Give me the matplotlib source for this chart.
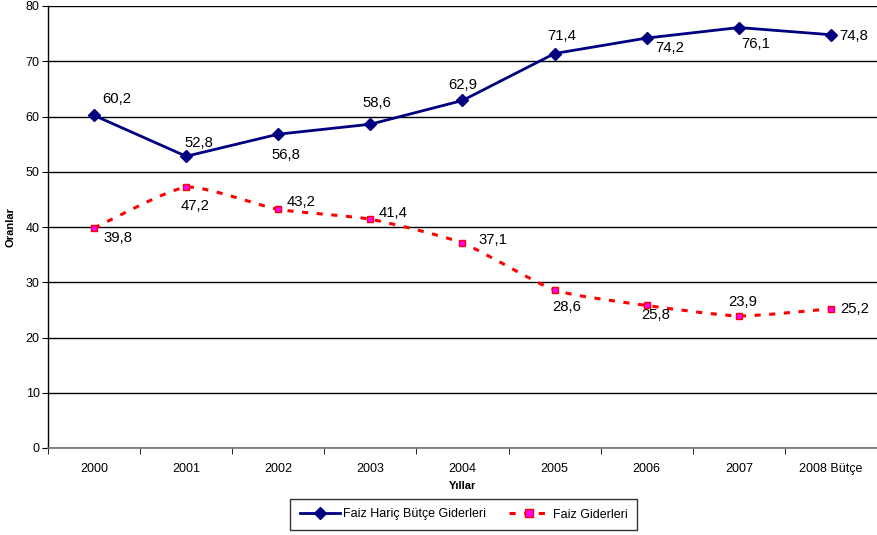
import matplotlib
matplotlib.use("Agg")
import matplotlib.pyplot as plt
from matplotlib.path import Path
from matplotlib.patches import PathPatch
from matplotlib.lines import Line2D
import numpy as np

plt.rcParams['font.family'] = ['Liberation Sans', 'DejaVu Sans']

years = ["2000", "2001", "2002", "2003", "2004", "2005", "2006", "2007", "2008 Bütçe"]
faiz_haric = [60.2, 52.8, 56.8, 58.6, 62.9, 71.4, 74.2, 76.1, 74.8]
faiz = [39.8, 47.2, 43.2, 41.4, 37.1, 28.6, 25.8, 23.9, 25.2]

# label centre offsets from each point, in pixels (x right, y up)
haric_off = [(22.5, 16), (13, 13), (7.5, -21), (6.5, 21), (0.5, 15),
             (7.5, 18), (23, -10), (16.5, -16), (22.5, -1)]
faiz_off = [(23.5, -10), (9, -19), (22.5, 7), (22.5, 6), (30.5, 3),
            (12.5, -17), (8.5, -10), (4, 14), (23.5, 0)]

navy = '#000080'
red = '#FF0000'
magenta = '#FF00FF'
dash = (0, (2.0, 2.8))

fig = plt.figure(figsize=(8.78, 5.35), dpi=100)
ax = fig.add_axes([48/878, 87/535, 829/878, 442/535])

x = np.arange(len(years))

ax.plot(x, faiz_haric, color=navy, lw=2, marker='D', ms=6.5,
        mfc=navy, mec=navy, zorder=4)


def smooth_path(xs, ys, k=1/10):
    pts = np.column_stack([xs, ys]).astype(float)
    n = len(pts)
    verts = [pts[0]]
    codes = [Path.MOVETO]
    for i in range(n - 1):
        p0 = pts[i - 1] if i > 0 else pts[i]
        p1 = pts[i]
        p2 = pts[i + 1]
        p3 = pts[i + 2] if i + 2 < n else pts[i + 1]
        c1 = p1 + (p2 - p0) * k
        c2 = p2 - (p3 - p1) * k
        verts += [c1, c2, p2]
        codes += [Path.CURVE4] * 3
    return Path(verts, codes)


curve = PathPatch(smooth_path(x, faiz), fill=False, edgecolor=red, lw=2.2,
                  linestyle=dash, zorder=3, capstyle='butt')
ax.add_patch(curve)
ax.plot(x, faiz, linestyle='none', marker='s', ms=5, mfc=magenta, mec=red,
        mew=1, zorder=5)

for xi, v, (dx, dy) in zip(x, faiz_haric, haric_off):
    ax.annotate(f"{v:.1f}".replace('.', ','), (xi, v), xytext=(dx, dy),
                textcoords='offset pixels', ha='center', va='center',
                fontsize=10.7)
for xi, v, (dx, dy) in zip(x, faiz, faiz_off):
    ax.annotate(f"{v:.1f}".replace('.', ','), (xi, v), xytext=(dx, dy),
                textcoords='offset pixels', ha='center', va='center',
                fontsize=10.7)

ax.set_xlim(-0.5, len(years) - 0.5)
ax.set_ylim(0, 80)
ax.set_yticks(np.arange(0, 81, 10))
ax.set_xticks(x)
ax.set_xticklabels(years, fontsize=9)
ax.tick_params(axis='x', length=0, pad=11)
ax.set_xticks(np.arange(-0.5, len(years), 1), minor=True)
ax.tick_params(axis='x', which='minor', length=4, direction='out')
ax.tick_params(axis='y', labelsize=9, length=4, direction='out', pad=2)
ax.yaxis.grid(True, color='black', lw=1)
ax.set_axisbelow(True)

for s in ['top', 'right']:
    ax.spines[s].set_visible(False)
ax.spines['left'].set_linewidth(1)
ax.spines['bottom'].set_linewidth(1.2)
ax.spines['bottom'].set_color('#707070')

ax.set_ylabel("Oranlar", fontsize=8, fontweight='bold', labelpad=7)
ax.set_xlabel("Yıllar", fontsize=8, fontweight='bold', labelpad=4)

handles = [
    Line2D([], [], color=navy, lw=2, marker='D', ms=6, mfc=navy, mec=navy),
    Line2D([], [], color=red, lw=2.2, linestyle=dash, marker='s',
           ms=5.5, mfc=magenta, mec=red),
]
leg = fig.legend(handles, ["Faiz Hariç Bütçe Giderleri", "Faiz Giderleri"],
                 loc='center', bbox_to_anchor=(463.5/878, 1 - 514.5/535), ncol=2,
                 fontsize=9, frameon=True, fancybox=False, edgecolor='black',
                 handlelength=3.2, handletextpad=0.3, columnspacing=1.8,
                 borderpad=0.75, borderaxespad=0)
leg.get_frame().set_linewidth(1)

fig.savefig("out.png", dpi=100)
